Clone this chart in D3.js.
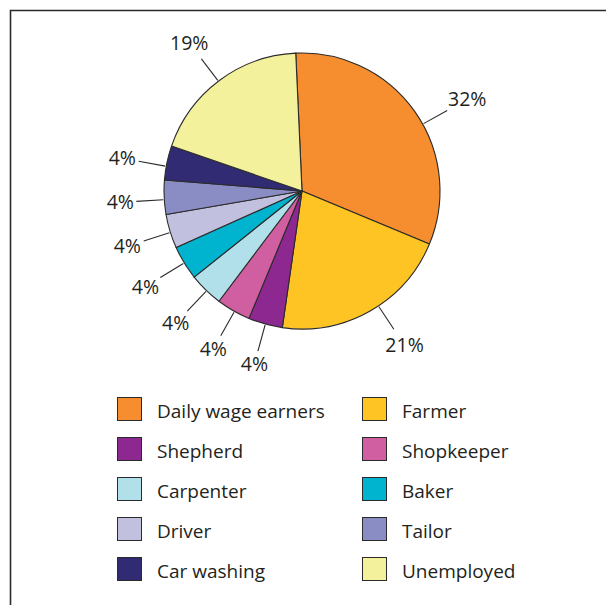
<!DOCTYPE html>
<html>
<head>
<meta charset="utf-8">
<script src="https://cdn.jsdelivr.net/npm/d3@7"></script>
<style>
  html, body { margin: 0; padding: 0; background: #ffffff; }
  svg { display: block; }
  text { font-family: "Open Sans", "Noto Sans", sans-serif; fill: #231f20; }
</style>
</head>
<body>
<svg id="chart" width="606" height="605"></svg>
<script>
// Occupation shares (%), listed clockwise from the top of the pie
const categories = ["Daily wage earners", "Farmer", "Shepherd", "Shopkeeper", "Carpenter",
                    "Baker", "Driver", "Tailor", "Car washing", "Unemployed"];
const shares = [32, 21, 4, 4, 4, 4, 4, 4, 4, 19];
const shareLabels = ["32%", "21%", "4%", "4%", "4%", "4%", "4%", "4%", "4%", "19%"];
const colors = ["#f68d2e", "#fdc423", "#8c288f", "#cf5fa0", "#b1e0eb",
                "#00b3ce", "#c2c0df", "#8a8cc4", "#302b73", "#f3f19c"];

// angular tilt (degrees) of each leader line away from its slice's middle
const leaderTilt = [6, -4, 0, -0.5, -0.5, 0, -0.5, -1, -1.5, -0.5];

const svg = d3.select("#chart");
const W = 606, H = 605;

// frame (top and left edges)
svg.append("path")
  .attr("d", `M10.5,${H} V10.5 H${W}`)
  .attr("fill", "none")
  .attr("stroke", "#2b2b2b")
  .attr("stroke-width", 1.6);

const cx = 302, cy = 191, R = 138;
const toRad = Math.PI / 180;
const startA = -2.6 * toRad;

const pie = d3.pie()
  .value(d => d.value)
  .sort(null)
  .startAngle(startA)
  .endAngle(startA + 2 * Math.PI);

const data = categories.map((c, i) => ({
  name: c, value: shares[i], label: shareLabels[i], color: colors[i], tilt: leaderTilt[i]
}));
const arcs = pie(data);

const arc = d3.arc().innerRadius(0).outerRadius(R);
const g = svg.append("g").attr("transform", `translate(${cx},${cy})`);

g.selectAll("path.slice")
  .data(arcs)
  .join("path")
  .attr("class", "slice")
  .attr("d", arc)
  .attr("fill", d => d.data.color)
  .attr("stroke", "#2b2b2b")
  .attr("stroke-width", 1.1)
  .attr("stroke-linejoin", "round");

// leader lines and percentage labels
const leaderLen = 28;
const pctSize = 19.5;
const midAngle = d => (d.startAngle + d.endAngle) / 2 + d.data.tilt * toRad;
const polar = (a, r) => [Math.sin(a) * r, -Math.cos(a) * r];

const labels = arcs.map(d => {
  const a = midAngle(d);
  const p1 = polar(a, R + 1);
  const p2 = polar(a, R + leaderLen);
  // push the label centre out so its box clears the end of the leader
  const halfW = d.data.label.length * 0.36 * pctSize;
  const halfH = 0.36 * pctSize;
  const clear = 3 + Math.abs(Math.sin(a)) * halfW * 0.9 + Math.abs(Math.cos(a)) * halfH;
  const pc = polar(a, R + leaderLen + clear);
  return { d, p1, p2, pc };
});

g.selectAll("line.leader")
  .data(labels)
  .join("line")
  .attr("class", "leader")
  .attr("x1", l => l.p1[0]).attr("y1", l => l.p1[1])
  .attr("x2", l => l.p2[0]).attr("y2", l => l.p2[1])
  .attr("stroke", "#2b2b2b")
  .attr("stroke-width", 1.1);

g.selectAll("text.pct")
  .data(labels)
  .join("text")
  .attr("class", "pct")
  .attr("x", l => l.pc[0])
  .attr("y", l => l.pc[1])
  .attr("text-anchor", "middle")
  .attr("dy", "0.36em")
  .attr("font-size", pctSize)
  .text(l => l.d.data.label);

// legend: two columns, five rows
const legend = svg.append("g");
const colX = d3.scaleOrdinal().domain([0, 1]).range([117, 362]);
const rowY = d3.scaleLinear().domain([0, 4]).range([397, 557]);

const items = legend.selectAll("g.item")
  .data(data)
  .join("g")
  .attr("class", "item")
  .attr("transform", (d, i) => `translate(${colX(i % 2)},${rowY(Math.floor(i / 2))})`);

items.append("rect")
  .attr("x", 0.5).attr("y", 0.5)
  .attr("width", 24).attr("height", 23)
  .attr("fill", d => d.color)
  .attr("stroke", "#2b2b2b")
  .attr("stroke-width", 1);

items.append("text")
  .attr("x", 40)
  .attr("y", 21)
  .attr("font-size", 19)
  .text(d => d.name);
</script>
</body>
</html>
